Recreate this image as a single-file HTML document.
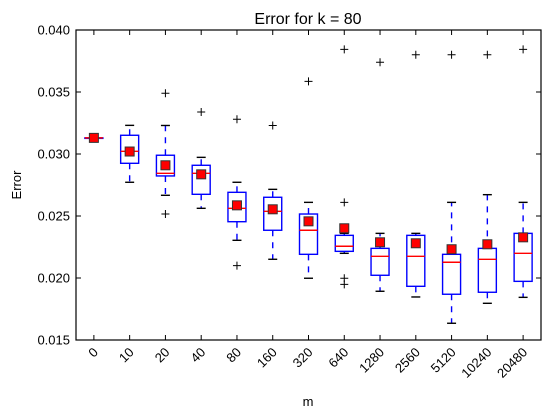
<!DOCTYPE html>
<html><head><meta charset="utf-8"><style>
html,body{margin:0;padding:0;background:#fff;}
svg{display:block;font-family:"Liberation Sans",sans-serif;}
</style></head><body>
<svg id="chart" width="554" height="418"></svg>
<script>
const categories=["0","10","20","40","80","160","320","640","1280","2560","5120","10240","20480"];
const whiskerLow=[0.0313,0.02772,0.02667,0.02562,0.02304,0.02151,0.01998,0.02199,0.01893,0.01847,0.01635,0.01796,0.01844];
const q1=[0.0313,0.02925,0.02823,0.02675,0.02454,0.02385,0.02191,0.02215,0.02022,0.01933,0.01869,0.01885,0.01973];
const medians=[0.0313,0.03022,0.02844,0.02844,0.02562,0.02538,0.02385,0.02256,0.02175,0.02175,0.02127,0.02151,0.02199];
const q3=[0.0313,0.03151,0.0299,0.02909,0.02691,0.02651,0.02516,0.02344,0.02239,0.02344,0.02191,0.02239,0.0236];
const whiskerHigh=[0.0313,0.03231,0.0323,0.02973,0.02772,0.02715,0.0261,0.0236,0.0236,0.0236,0.0261,0.02672,0.0261];
const means=[0.0313,0.0302,0.02909,0.02836,0.02586,0.02554,0.02457,0.02401,0.02288,0.0228,0.02232,0.02272,0.02328];
const fliers=[[],[],[0.0349,0.02516],[0.03339],[0.0328,0.021],[0.0323],[0.03586],[0.03844,0.0261,0.01998,0.01949],[0.0374],[0.038],[0.038],[0.038],[0.03844]];
const yTicks=[0.015,0.020,0.025,0.030,0.035,0.040];
const yTickLabels=["0.015","0.020","0.025","0.030","0.035","0.040"];

const L=76,R=541,T=30,B=340,yMin=0.015,yMax=0.040;
const svg=document.getElementById('chart');
const NS="http://www.w3.org/2000/svg";
const xS=i=>L+(i+0.5)*(R-L)/categories.length;
const yS=v=>B-(v-yMin)/(yMax-yMin)*(B-T);
function mk(tag,attrs,parent){const e=document.createElementNS(NS,tag);for(const k in attrs)e.setAttribute(k,attrs[k]);(parent||svg).appendChild(e);return e;}

let t=mk('text',{x:308,y:24,'text-anchor':'middle','font-size':16});
t.textContent="Error for k = 80";


t=mk('text',{x:308,y:406,'text-anchor':'middle','font-size':13});
t.textContent="m";


t=mk('text',{x:0,y:0,'text-anchor':'middle','font-size':13,transform:'translate(21,185) rotate(-90)'});
t.textContent="Error";



yTicks.forEach((v,i)=>{
  const y=yS(v);
  mk('line',{x1:L,x2:L+5,y1:y,y2:y,stroke:'#000'});
  mk('line',{x1:R-5,x2:R,y1:y,y2:y,stroke:'#000'});
  const tx=mk('text',{x:70,y:y+4.5,'text-anchor':'end','font-size':13});
  tx.textContent=yTickLabels[i];
  
  
});

categories.forEach((c,i)=>{
  const x=xS(i);
  mk('line',{x1:x,x2:x,y1:B,y2:B-5,stroke:'#000'});
  mk('line',{x1:x,x2:x,y1:T,y2:T+5,stroke:'#000'});
  const tx=mk('text',{x:0,y:0,'text-anchor':'end','font-size':13,transform:`translate(${x+5},${B+13}) rotate(-45)`});
  tx.textContent=c;
  
  

  const g=mk('g',{});
  
  
  const bw=9,cw=4.5;
  mk('line',{x1:x,x2:x,y1:yS(q3[i]),y2:yS(whiskerHigh[i]),stroke:'#00f','stroke-width':1.4,'stroke-dasharray':'6,6'},g);
  mk('line',{x1:x,x2:x,y1:yS(q1[i]),y2:yS(whiskerLow[i]),stroke:'#00f','stroke-width':1.4,'stroke-dasharray':'6,6'},g);
  mk('line',{x1:x-cw,x2:x+cw,y1:yS(whiskerHigh[i]),y2:yS(whiskerHigh[i]),stroke:'#000','stroke-width':1.4},g);
  mk('line',{x1:x-cw,x2:x+cw,y1:yS(whiskerLow[i]),y2:yS(whiskerLow[i]),stroke:'#000','stroke-width':1.4},g);
  mk('rect',{x:x-bw,y:yS(q3[i]),width:2*bw,height:Math.max(0.5,yS(q1[i])-yS(q3[i])),fill:'none',stroke:'#00f','stroke-width':1.4},g);
  mk('line',{x1:x-bw,x2:x+bw,y1:yS(medians[i]),y2:yS(medians[i]),stroke:'#f00','stroke-width':1.4},g);
  fliers[i].forEach(f=>{
    const y=yS(f);
    const p=mk('path',{d:`M${x-4},${y}H${x+4}M${x},${y-4}V${y+4}`,stroke:'#000',fill:'none'},g);
    
    
  });
  const m=mk('rect',{x:x-4.5,y:yS(means[i])-4.5,width:9,height:9,fill:'#f00',stroke:'#333','stroke-width':1},g);
  
  
});

const fr=mk('rect',{x:L,y:T,width:R-L,height:B-T,fill:'none',stroke:'#000','stroke-width':1.2});


</script>
</body></html>
